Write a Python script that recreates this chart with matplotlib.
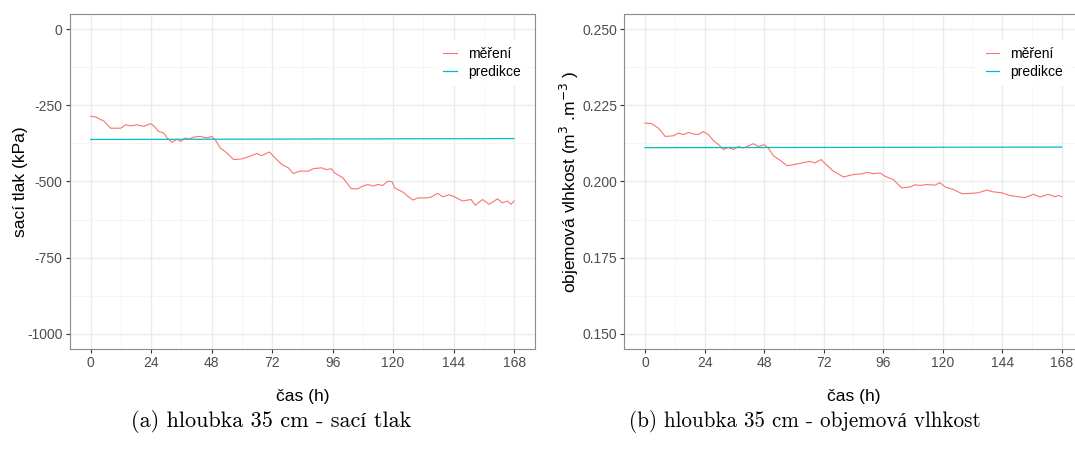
import matplotlib
matplotlib.use("Agg")
from matplotlib import pyplot as plt
from matplotlib.ticker import MultipleLocator

plt.rcParams['font.family'] = ['Liberation Sans', 'DejaVu Sans']

# (a) saci tlak, hloubka 35 cm
t_a = [0, 2, 4, 5.3, 7.9, 11.9, 13.8, 15.8, 18.4, 21.1, 23.7, 25.0, 27.0, 29.0, 30.3,
       32.3, 34.3, 35.6, 37.6, 38.9, 40.8, 43.5, 46.1, 48.1, 49.4, 51.4, 54.0, 56.7,
       59.9, 63.2, 65.9, 67.9, 70.9, 72.5, 75.8, 78.4, 80.4, 83.0, 86.3, 88.3, 91.6,
       93.5, 95.5, 96.8, 100.1, 103.4, 106.0, 108.0, 110.0, 112.0, 113.9, 115.9,
       117.9, 119.6, 120.6, 123.9, 125.8, 127.8, 129.8, 133.1, 135.1, 137.7, 139.7,
       142.3, 144.3, 147.6, 150.9, 152.6, 155.5, 158.1, 161.4, 163.4, 165.4, 166.7, 168]
mereni_a = [-286, -288, -297, -302, -325, -325, -314, -317, -314, -319, -310, -317, -336,
            -341, -357, -371, -361, -369, -357, -361, -354, -352, -357, -352, -363, -390,
            -406, -428, -426, -417, -408, -415, -403, -417, -444, -455, -474, -466, -466,
            -458, -455, -461, -458, -472, -488, -524, -524, -515, -510, -515, -510, -513,
            -499, -501, -521, -535, -548, -561, -554, -554, -551, -539, -550, -544, -550,
            -564, -559, -578, -559, -575, -557, -570, -564, -575, -564]

# (b) objemova vlhkost, hloubka 35 cm
t_b = [0, 2.7, 5.4, 8.1, 11.4, 13.4, 15.5, 17.5, 19.5, 21.5, 23.5, 25.5, 27.6, 29.6,
       31.6, 33.6, 35.6, 37.6, 39.6, 41.7, 43.7, 45.7, 48.0, 49.7, 51.7, 54.4, 57.1,
       59.8, 63.2, 66.5, 68.5, 71.0, 72.6, 75.9, 80.0, 84.0, 87.4, 89.4, 92.1, 94.8,
       96.8, 100.1, 103.5, 106.8, 108.9, 110.9, 113.6, 116.9, 118.9, 121.0, 124.3,
       127.7, 131.0, 134.4, 137.8, 140.4, 143.8, 147.2, 150.5, 153.2, 156.6, 159.3,
       162.6, 165.3, 166.7, 168]
mereni_b = [0.2192, 0.2190, 0.2175, 0.2148, 0.2150, 0.2159, 0.2154, 0.2161, 0.2156,
            0.2154, 0.2164, 0.2154, 0.2134, 0.2121, 0.2105, 0.2112, 0.2105, 0.2115,
            0.2110, 0.2117, 0.2124, 0.2115, 0.2121, 0.2110, 0.2085, 0.2070, 0.2052,
            0.2055, 0.2061, 0.2066, 0.2061, 0.2072, 0.2059, 0.2034, 0.2015, 0.2023,
            0.2025, 0.2030, 0.2026, 0.2028, 0.2017, 0.2006, 0.1979, 0.1982, 0.1989,
            0.1987, 0.1990, 0.1988, 0.1996, 0.1982, 0.1974, 0.1960, 0.1961, 0.1963,
            0.1972, 0.1966, 0.1963, 0.1954, 0.1950, 0.1947, 0.1958, 0.1949, 0.1958,
            0.1950, 0.1954, 0.1950]

t_pred = [0, 168]
predikce_a = [-362, -359]
predikce_b = [0.2111, 0.2113]

x_ticks = [0, 24, 48, 72, 96, 120, 144, 168]
y_ticks_a = [-1000, -750, -500, -250, 0]
y_ticks_b = [0.150, 0.175, 0.200, 0.225, 0.250]

RED = '#F8766D'
CYAN = '#00BFC4'

fig = plt.figure(figsize=(10.75, 4.57), dpi=100)
ax1 = fig.add_axes([0.0647, 0.2363, 0.4332, 0.7331])
ax2 = fig.add_axes([0.5807, 0.2363, 0.4263, 0.7331])


def style(ax, yticks, ylim, yfmt, ylabel, ypad, leg_x):
    ax.set_xlim(-8.4, 176.4)
    ax.set_ylim(*ylim)
    ax.set_xticks(x_ticks)
    ax.set_xticklabels([str(v) for v in x_ticks])
    ax.set_yticks(yticks)
    ax.set_yticklabels([yfmt.format(v) for v in yticks])
    ax.xaxis.set_minor_locator(MultipleLocator(12))
    ax.yaxis.set_minor_locator(MultipleLocator((yticks[1] - yticks[0]) / 2))
    ax.grid(True, which='major', color='#EBEBEB', lw=1.0, zorder=0)
    ax.grid(True, which='minor', color='#F4F4F4', lw=0.6, zorder=0)
    ax.set_axisbelow(True)
    ax.tick_params(which='major', length=3, width=0.8, color='#333333',
                   labelsize=10, labelcolor='#4D4D4D', pad=2)
    ax.tick_params(which='minor', length=0)
    for s in ax.spines.values():
        s.set_color('#8C8C8C')
        s.set_linewidth(0.8)
    ax.set_xlabel('čas (h)', fontsize=12.5, labelpad=14)
    ax.set_ylabel(ylabel, fontsize=12.5, labelpad=ypad)
    leg = ax.legend(loc='upper left', bbox_to_anchor=(leg_x, 0.942), fontsize=10,
                    frameon=True, fancybox=False, edgecolor='none', facecolor='white',
                    framealpha=1, handlelength=1.0, handletextpad=0.8,
                    labelspacing=0.25, borderpad=0.5)
    leg.set_zorder(5)


ax1.plot(t_a, mereni_a, color=RED, lw=0.8, label='měření', zorder=3)
ax1.plot(t_pred, predikce_a, color=CYAN, lw=0.9, label='predikce', zorder=3)
style(ax1, y_ticks_a, (-1050, 50), '{:.0f}', 'sací tlak (kPa)', -1, 0.772)

ax2.plot(t_b, mereni_b, color=RED, lw=0.8, label='měření', zorder=3)
ax2.plot(t_pred, predikce_b, color=CYAN, lw=0.9, label='predikce', zorder=3)
style(ax2, y_ticks_b, (0.145, 0.255), '{:.3f}', 'objemová vlhkost (m$^3$ .m$^{-3}$ )', 1, 0.758)
ax2.spines['right'].set_visible(False)

cap_font = ['cmr10', 'Liberation Serif']
fig.text(0.252, 0.077, '(a) hloubka 35 cm - sací tlak', ha='center', va='center',
         fontsize=16, family=cap_font)
fig.text(0.749, 0.077, '(b) hloubka 35 cm - objemová vlhkost', ha='center', va='center',
         fontsize=15.2, family=cap_font)

fig.savefig('out.png', dpi=100)
